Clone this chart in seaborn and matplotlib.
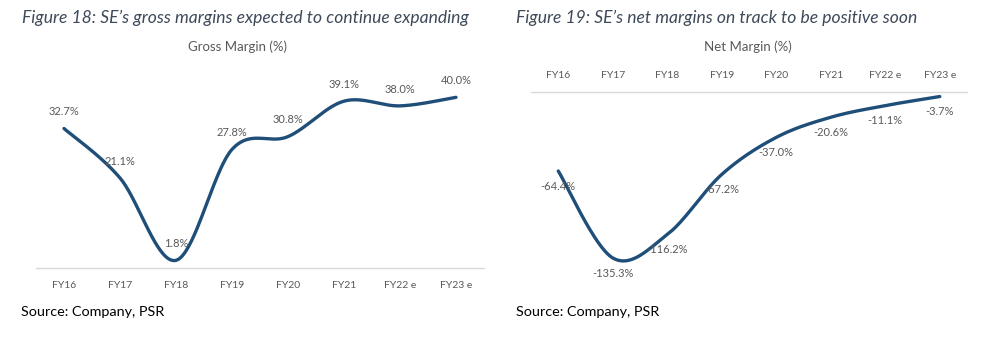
import numpy as np
import pandas as pd
import matplotlib
matplotlib.use("Agg")
import matplotlib.pyplot as plt
import seaborn as sns

years = ["FY16", "FY17", "FY18", "FY19", "FY20", "FY21", "FY22e", "FY23e"]
tick_labels = ["FY16", "FY17", "FY18", "FY19", "FY20", "FY21", "FY22 e", "FY23 e"]
gross_margin = [32.7, 21.1, 1.8, 27.8, 30.8, 39.1, 38.0, 40.0]
net_margin = [-64.4, -135.3, -116.2, -67.2, -37.0, -20.6, -11.1, -3.7]

LINE = "#1F4E79"
GREY = "#595959"
TITLE = "#3E4A5A"

sns.set_theme(style="white")
plt.rcParams["font.family"] = ["Lato", "DejaVu Sans"]


def smooth(xs, ys, n=40):
    """Catmull-Rom style smoothing like Excel smoothed lines."""
    xs = np.asarray(xs, float)
    ys = np.asarray(ys, float)
    px = np.concatenate([[xs[0]], xs, [xs[-1]]])
    py = np.concatenate([[ys[0]], ys, [ys[-1]]])
    ox, oy = [], []
    for i in range(1, len(px) - 2):
        p0x, p1x, p2x, p3x = px[i - 1], px[i], px[i + 1], px[i + 2]
        p0y, p1y, p2y, p3y = py[i - 1], py[i], py[i + 1], py[i + 2]
        c1x = p1x + (p2x - p0x) / 6
        c1y = p1y + (p2y - p0y) / 6
        c2x = p2x - (p3x - p1x) / 6
        c2y = p2y - (p3y - p1y) / 6
        t = np.linspace(0, 1, n, endpoint=(i == len(px) - 3))
        b0 = (1 - t) ** 3
        b1 = 3 * (1 - t) ** 2 * t
        b2 = 3 * (1 - t) * t ** 2
        b3 = t ** 3
        ox.append(b0 * p1x + b1 * c1x + b2 * c2x + b3 * p2x)
        oy.append(b0 * p1y + b1 * c1y + b2 * c2y + b3 * p2y)
    return np.concatenate(ox), np.concatenate(oy)


fig = plt.figure(figsize=(9.88, 3.61), dpi=100)
W, H = 988, 361


def axes_px(x0, y0, x1, y1):
    return fig.add_axes([x0 / W, 1 - y1 / H, (x1 - x0) / W, (y1 - y0) / H])


# ---- Gross margin panel ----
ax1 = axes_px(36, 76, 484, 268)
idx = np.arange(len(years))
sx, sy = smooth(idx, gross_margin)
sns.lineplot(data=pd.DataFrame({"x": sx, "y": sy}), x="x", y="y", ax=ax1,
             color=LINE, linewidth=2.4, sort=False)
ax1.set_xlim(-0.5, 7.5)
ax1.set_ylim(0, 45)
ax1.set_xticks(idx)
ax1.set_xticklabels(tick_labels, fontsize=7.5, color=GREY)
ax1.set_yticks([])
ax1.tick_params(axis="x", length=0, pad=9)
for s in ["left", "right", "top"]:
    ax1.spines[s].set_visible(False)
ax1.spines["bottom"].set_color("#D9D9D9")
ax1.spines["bottom"].set_linewidth(1)
ax1.set_xlabel("")
ax1.set_ylabel("")
for i, v in enumerate(gross_margin):
    ax1.annotate(f"{v:.1f}%", (i, v), xytext=(0, 12), textcoords="offset points",
                 ha="center", va="center", fontsize=8, color=GREY)

# ---- Net margin panel ----
ax2 = axes_px(531, 92, 967, 276)
sx, sy = smooth(idx, net_margin)
sns.lineplot(data=pd.DataFrame({"x": sx, "y": sy}), x="x", y="y", ax=ax2,
             color=LINE, linewidth=2.4, sort=False)
ax2.set_xlim(-0.5, 7.5)
ax2.set_ylim(-150, 0)
ax2.xaxis.tick_top()
ax2.set_xticks(idx)
ax2.set_xticklabels(tick_labels, fontsize=7.5, color=GREY)
ax2.set_yticks([])
ax2.tick_params(axis="x", length=0, pad=9)
for s in ["left", "right", "bottom"]:
    ax2.spines[s].set_visible(False)
ax2.spines["top"].set_color("#D9D9D9")
ax2.spines["top"].set_linewidth(1)
ax2.set_xlabel("")
ax2.set_ylabel("")
for i, v in enumerate(net_margin):
    ax2.annotate(f"{v:.1f}%", (i, v), xytext=(0, -11), textcoords="offset points",
                 ha="center", va="center", fontsize=8, color=GREY)

# ---- Texts ----
fig.text(22 / W, 1 - 18 / H, "Figure 18: SE\u2019s gross margins expected to continue expanding",
         ha="left", va="center", fontsize=12.6, style="italic", color=TITLE)
fig.text(516 / W, 1 - 18 / H, "Figure 19: SE\u2019s net margins on track to be positive soon",
         ha="left", va="center", fontsize=12.6, style="italic", color=TITLE)
fig.text(237 / W, 1 - 47 / H, "Gross Margin (%)", ha="center", va="center",
         fontsize=9.5, color=GREY)
fig.text(748 / W, 1 - 47 / H, "Net Margin (%)", ha="center", va="center",
         fontsize=9.5, color=GREY)
fig.text(21 / W, 1 - 312 / H, "Source: Company, PSR", ha="left", va="center",
         fontsize=10.4, color="black")
fig.text(516 / W, 1 - 312 / H, "Source: Company, PSR", ha="left", va="center",
         fontsize=10.4, color="black")

fig.savefig("out.png", dpi=100, facecolor="white")
